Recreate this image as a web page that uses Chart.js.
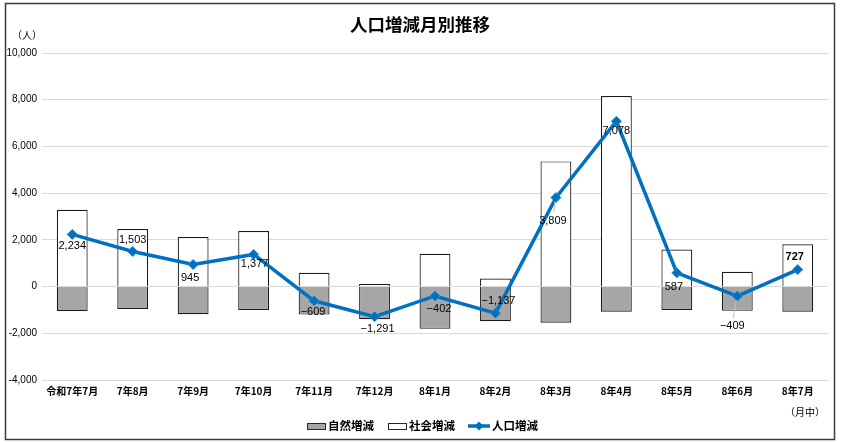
<!DOCTYPE html>
<html lang="ja">
<head>
<meta charset="utf-8">
<title>人口増減月別推移</title>
<script src="https://cdn.jsdelivr.net/npm/chart.js@4.4.1/dist/chart.umd.min.js"></script>
<style>
  html, body { margin: 0; padding: 0; background: #fff; }
  #wrap { position: relative; width: 841px; height: 442px; }
</style>
</head>
<body>
<div id="wrap"><canvas id="popChart" width="841" height="442"></canvas></div>
<script>
/* ---- data ---- */
const categories = ['令和7年7月', '7年8月', '7年9月', '7年10月', '7年11月', '7年12月',
  '8年1月', '8年2月', '8年3月', '8年4月', '8年5月', '8年6月', '8年7月'];
const naturalChange = [-1050, -960, -1180, -1000, -1200, -1400, -1810, -1480, -1550, -1080, -1000, -1040, -1080];
const socialChange = [3284, 2463, 2125, 2377, 591, 109, 1408, 343, 5359, 8158, 1587, 631, 1807];
const populationChange = [2234, 1503, 945, 1377, -609, -1291, -402, -1137, 3809, 7078, 587, -409, 727];
const yTicks = [-4000, -2000, 0, 2000, 4000, 6000, 8000, 10000];

const seriesNames = ['自然増減', '社会増減', '人口増減'];
const BLUE = '#0070C0';
const CJK = '"Noto Sans CJK JP", "Noto Sans", sans-serif';
const LAT = '"Liberation Sans", Arial, sans-serif';

/* label placement for each point of the line: [dx, dy, leader line?] */
const labelPlacement = [
  [0, 12], [0, -11], [-3, 13], [1, 10], [-1, 11], [3, 12], [4, 13],
  [3, -12], [-3, 23, true], [0, 10], [-3, 14], [-5, 30, true], [-3, -13]
];

const fmt = (v) => (v < 0 ? '\u2212' : '') + Math.abs(v).toLocaleString('en-US');

/* ---- frame, title, unit notes, legend ---- */
const decorPlugin = {
  id: 'decor',
  beforeDraw(chart) {
    const ctx = chart.ctx;
    ctx.save();
    ctx.fillStyle = '#fff';
    ctx.fillRect(0, 0, chart.width, chart.height);
    ctx.restore();
  },
  afterDraw(chart) {
    const ctx = chart.ctx;
    ctx.save();
    // outer frame
    ctx.strokeStyle = '#3a3a3a';
    ctx.lineWidth = 1.5;
    ctx.strokeRect(5.5, 3.5, 829, 436);

    // title
    ctx.fillStyle = '#000';
    ctx.textAlign = 'center';
    ctx.textBaseline = 'middle';
    ctx.font = 'bold 17.5px ' + CJK;
    ctx.fillText('人口増減月別推移', 420, 24);

    // unit notes
    ctx.font = '10px ' + CJK;
    ctx.fillText('（人）', 27, 35);
    ctx.fillText('（月中）', 805, 412);

    // legend
    const ly = 426;
    ctx.font = 'bold 11.5px ' + CJK;
    ctx.textAlign = 'left';
    ctx.lineWidth = 1;
    ctx.strokeStyle = '#262626';
    ctx.fillStyle = '#A6A6A6';
    ctx.fillRect(307, ly - 3, 18, 6);
    ctx.strokeRect(307.5, ly - 2.5, 18, 6);
    ctx.fillStyle = '#000';
    ctx.fillText(seriesNames[0], 328, ly);
    ctx.fillStyle = '#fff';
    ctx.fillRect(388, ly - 3, 18, 6);
    ctx.strokeRect(388.5, ly - 2.5, 18, 6);
    ctx.fillStyle = '#000';
    ctx.fillText(seriesNames[1], 409, ly);
    ctx.strokeStyle = BLUE;
    ctx.lineWidth = 3.5;
    ctx.beginPath();
    ctx.moveTo(468, ly);
    ctx.lineTo(490, ly);
    ctx.stroke();
    ctx.fillStyle = BLUE;
    ctx.beginPath();
    ctx.moveTo(479, ly - 4.5);
    ctx.lineTo(483.5, ly);
    ctx.lineTo(479, ly + 4.5);
    ctx.lineTo(474.5, ly);
    ctx.closePath();
    ctx.fill();
    ctx.fillStyle = '#000';
    ctx.fillText(seriesNames[2], 492, ly);
    ctx.restore();
  }
};

/* ---- value labels on the line ---- */
const lineLabelPlugin = {
  id: 'lineLabels',
  afterDatasetsDraw(chart) {
    const meta = chart.getDatasetMeta(2);
    const ctx = chart.ctx;
    ctx.save();
    ctx.textAlign = 'center';
    ctx.textBaseline = 'middle';
    meta.data.forEach((pt, i) => {
      const [dx, dy, leader] = labelPlacement[i];
      const x = pt.x + dx;
      const y = pt.y + dy;
      if (leader) {
        ctx.strokeStyle = '#bfbfbf';
        ctx.lineWidth = 1;
        ctx.beginPath();
        ctx.moveTo(pt.x - 1, pt.y + 4);
        ctx.lineTo(x + 1, y - 8);
        ctx.stroke();
      }
      ctx.fillStyle = '#000';
      ctx.font = (i === populationChange.length - 1 ? 'bold ' : '') + '11px ' + LAT;
      ctx.fillText(fmt(populationChange[i]), x, y);
    });
    ctx.restore();
  }
};

new Chart(document.getElementById('popChart'), {
  data: {
    labels: categories,
    datasets: [
      {
        type: 'bar',
        label: seriesNames[0],
        data: naturalChange,
        stack: 'pop',
        backgroundColor: '#A6A6A6',
        borderColor: '#1a1a1a',
        borderWidth: 1.2,
        categoryPercentage: 1,
        barPercentage: 0.51,
        order: 2,
      },
      {
        type: 'bar',
        label: seriesNames[1],
        data: socialChange,
        stack: 'pop',
        backgroundColor: '#FFFFFF',
        borderColor: '#1a1a1a',
        borderWidth: 1.2,
        categoryPercentage: 1,
        barPercentage: 0.51,
        order: 2,
      },
      {
        type: 'line',
        label: seriesNames[2],
        data: populationChange,
        stack: 'line',
        borderColor: BLUE,
        backgroundColor: BLUE,
        borderWidth: 3.5,
        pointStyle: 'rectRot',
        pointRadius: 5,
        pointBackgroundColor: BLUE,
        pointBorderColor: '#2a86cc',
        pointBorderWidth: 1,
        tension: 0,
        order: 0,
      },
    ],
  },
  options: {
    responsive: false,
    animation: false,
    layout: { padding: { left: 0, right: 13, top: 53, bottom: 0 } },
    plugins: { legend: { display: false }, title: { display: false }, tooltip: { enabled: false } },
    scales: {
      x: {
        stacked: true,
        grid: { display: false, drawTicks: false },
        border: { display: false },
        ticks: {
          maxRotation: 0, autoSkip: false, padding: 5, color: '#000',
          font: { family: CJK, size: 10, weight: 'bold' },
        },
        afterFit(scale) { scale.height = 62; },
      },
      y: {
        stacked: true,
        min: yTicks[0],
        max: yTicks[yTicks.length - 1],
        afterBuildTicks(scale) { scale.ticks = yTicks.map((v) => ({ value: v })); },
        grid: { color: '#d9d9d9', lineWidth: 1, drawTicks: false },
        border: { display: false },
        ticks: {
          padding: 5, color: '#000',
          font: { family: LAT, size: 10 },
          callback: (v) => v.toLocaleString('en-US'),
        },
        afterFit(scale) { scale.width = 42; },
      },
    },
  },
  plugins: [decorPlugin, lineLabelPlugin],
});
</script>
</body>
</html>
